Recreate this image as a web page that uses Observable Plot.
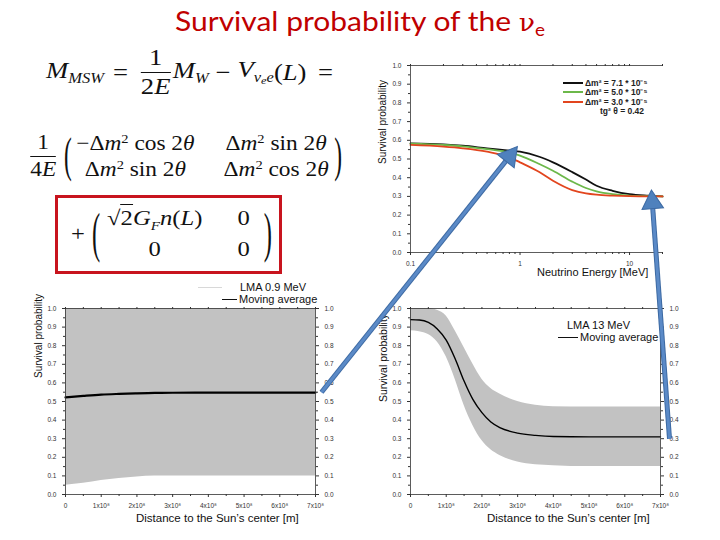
<!DOCTYPE html>
<html><head><meta charset="utf-8">
<script src="https://cdn.jsdelivr.net/npm/d3@7"></script>
<script src="https://cdn.jsdelivr.net/npm/@observablehq/plot@0.6"></script>
<style>
body{margin:0;background:#fff;}
#page{position:relative;width:720px;height:540px;overflow:hidden;background:#fff;font-family:"Liberation Sans",Arial,sans-serif;}
.abs{position:absolute;}
.math{font-family:"Liberation Serif","DejaVu Serif",serif;color:#111;white-space:nowrap;line-height:1;transform-origin:0 50%;}
.math i{font-style:italic;}
.sub{font-size:0.62em;vertical-align:-0.35em;}
.sup{font-size:0.62em;vertical-align:0.55em;}
.frac{display:inline-flex;flex-direction:column;align-items:center;margin:0 2px;vertical-align:middle;}
.frac .bar{height:1.3px;background:#111;align-self:stretch;margin:3px 0 2px 0;}
.paren{display:inline-block;transform:scaleY(2.3);font-weight:300;}
.mat{display:inline-grid;grid-template-columns:auto auto;column-gap:26px;row-gap:4px;vertical-align:middle;text-align:center;}
.lab{font-family:"Liberation Sans",Arial,sans-serif;color:#111;white-space:nowrap;line-height:1;}
.chart{position:absolute;}
</style>
</head><body>
<div id="page">
  <div id="title" class="abs" style="left:175px;top:4px;color:#c00000;font-family:Lato,'Open Sans',sans-serif;font-size:27px;white-space:nowrap;transform-origin:0 0;">Survival probability of the <span style="font-family:'DejaVu Serif',serif;font-size:24px;">ν</span><span style="font-size:17px;vertical-align:-0.3em;">e</span></div>

  <div id="eq1" class="abs math" style="left:46px;top:47px;font-size:23px;display:flex;align-items:center;height:50px;">
    <span><i>M</i><span class="sub"><i>MSW</i></span></span>
    <span style="margin:0 9px 0 8px;">=</span>
    <span class="frac"><span>1</span><span class="bar"></span><span>2<i>E</i></span></span>
    <span><i>M</i><span class="sub"><i>W</i></span></span>
    <span style="margin:0 6px;">−</span>
    <span><i>V</i><span class="sub"><i>ν</i><span style="font-size:0.75em;vertical-align:-0.2em;"><i>e</i></span><i>e</i></span></span>
    <span>(<i>L</i>)</span>
    <span style="margin-left:10px;">=</span>
  </div>

  <div id="eq2" class="abs math" style="left:28px;top:130px;font-size:21px;display:flex;align-items:center;height:52px;">
    <span class="frac"><span>1</span><span class="bar"></span><span>4<i>E</i></span></span>
    <span class="paren" style="margin:0 4px 0 5px;">(</span>
    <span class="mat">
      <span>−Δ<i>m</i><span class="sup">2</span> cos 2<i>θ</i></span><span>Δ<i>m</i><span class="sup">2</span> sin 2<i>θ</i></span>
      <span>Δ<i>m</i><span class="sup">2</span> sin 2<i>θ</i></span><span>Δ<i>m</i><span class="sup">2</span> cos 2<i>θ</i></span>
    </span>
    <span class="paren" style="margin-left:5px;">)</span>
  </div>

  <div class="abs" style="left:55px;top:195px;width:221px;height:73px;border:3px solid #c8141e;"></div>
  <div id="eq3" class="abs math" style="left:71px;top:206px;font-size:21px;display:flex;align-items:center;height:56px;">
    <span>+</span>
    <span class="paren" style="margin:0 6px 0 6px;transform:scaleY(2.6);">(</span>
    <span class="mat" style="column-gap:30px;row-gap:8px;">
      <span>√<span style="border-top:1.3px solid #111;padding-top:1px;">2</span><i>G</i><span class="sub"><i>F</i></span><i>n</i>(<i>L</i>)</span><span>0</span>
      <span>0</span><span>0</span>
    </span>
    <span class="paren" style="margin-left:12px;transform:scaleY(2.6);">)</span>
  </div>

  <div id="c1" class="chart" style="left:370px;top:50px;"></div>
  <div id="c2" class="chart" style="left:20px;top:280px;"></div>
  <div id="c3" class="chart" style="left:370px;top:290px;"></div>

  <!-- axis titles -->
  <div class="abs lab" style="left:383px;top:122px;font-size:10px;transform:translate(-50%,-50%) rotate(-90deg);">Survival probability</div>
  <div class="abs lab" style="left:537px;top:267px;font-size:11px;">Neutrino Energy [MeV]</div>
  <div class="abs lab" style="left:39px;top:336px;font-size:10px;transform:translate(-50%,-50%) rotate(-90deg);">Survival probability</div>
  <div class="abs lab" style="left:136px;top:513px;font-size:11.5px;">Distance to the Sun’s center [m]</div>
  <div class="abs lab" style="left:383px;top:358px;font-size:10.5px;transform:translate(-50%,-50%) rotate(-90deg);">Survival probability</div>
  <div class="abs lab" style="left:487px;top:513px;font-size:11.5px;">Distance to the Sun’s center [m]</div>

  <!-- legends -->
  <div id="leg1" class="abs lab" style="left:563px;top:78px;font-size:8.5px;font-weight:bold;color:#222;"></div>
  <div class="abs" style="left:198px;top:287px;width:24px;height:1px;background:#d8d8d8;"></div>
  <div class="abs lab" style="left:240px;top:282px;font-size:11px;">LMA 0.9 MeV</div>
  <div class="abs" style="left:222px;top:299px;width:15px;height:1.3px;background:#111;"></div>
  <div class="abs lab" style="left:239px;top:294px;font-size:11px;">Moving average</div>
  <div class="abs lab" style="left:567px;top:320px;font-size:11px;">LMA 13 MeV</div>
  <div class="abs" style="left:558px;top:337px;width:20px;height:1.3px;background:#111;"></div>
  <div class="abs lab" style="left:580px;top:332px;font-size:11px;">Moving average</div>

  <div id="arrows" class="chart" style="left:0;top:0;pointer-events:none;"></div>
</div>
<script>
// ---------- data ----------
const energy = [0.1, 0.2, 0.3, 0.5, 0.8, 1, 1.5, 2, 3, 4, 5, 7, 10, 15, 20];
const pDm71 = [0.584, 0.578, 0.571, 0.557, 0.545, 0.539, 0.512, 0.482, 0.430, 0.390, 0.357, 0.330, 0.312, 0.304, 0.300];
const pDm50 = [0.582, 0.575, 0.568, 0.553, 0.535, 0.518, 0.473, 0.437, 0.379, 0.345, 0.327, 0.312, 0.304, 0.301, 0.300];
const pDm30 = [0.575, 0.566, 0.557, 0.539, 0.509, 0.482, 0.430, 0.384, 0.334, 0.316, 0.309, 0.304, 0.301, 0.300, 0.300];
const seriesNames = ["Δm² = 7.1 * 10⁻⁵", "Δm² = 5.0 * 10⁻⁵", "Δm² = 3.0 * 10⁻⁵"];
const seriesColors = ["#111111", "#6cb84a", "#e2451e"];
const mixingLabel = "tg² θ = 0.42";

const distLow = [0, 0.5e8, 1e8, 1.5e8, 2e8, 2.5e8, 3e8, 4e8, 5e8, 6e8, 7e8];
const lowAvg = [0.522, 0.530, 0.537, 0.541, 0.544, 0.546, 0.547, 0.548, 0.548, 0.548, 0.548];
const lowBandLo = [0.050, 0.060, 0.075, 0.086, 0.094, 0.099, 0.100, 0.100, 0.100, 0.100, 0.100];
const lowBandHi = [1.0, 1.0, 1.0, 1.0, 1.0, 1.0, 1.0, 1.0, 1.0, 1.0, 1.0];

const distHigh = [0, 0.25e8, 0.5e8, 0.75e8, 1e8, 1.25e8, 1.5e8, 1.75e8, 2e8, 2.25e8, 2.5e8, 3e8, 3.5e8, 4e8, 5e8, 6e8, 7e8];
const highAvg = [0.940, 0.938, 0.925, 0.890, 0.830, 0.730, 0.610, 0.510, 0.440, 0.390, 0.360, 0.330, 0.318, 0.312, 0.310, 0.310, 0.310];
const highBandHi = [1.0, 1.0, 1.0, 0.99, 0.96, 0.88, 0.79, 0.70, 0.62, 0.57, 0.54, 0.50, 0.48, 0.472, 0.470, 0.470, 0.470];
const highBandLo = [0.880, 0.875, 0.860, 0.820, 0.740, 0.620, 0.480, 0.370, 0.290, 0.240, 0.210, 0.175, 0.160, 0.155, 0.150, 0.150, 0.150];

const probTicks = [0, 0.1, 0.2, 0.3, 0.4, 0.5, 0.6, 0.7, 0.8, 0.9, 1.0];
const probMinor = [0.05, 0.15, 0.25, 0.35, 0.45, 0.55, 0.65, 0.75, 0.85, 0.95];
const energyTicks = [0.1, 1, 10];
const energyMinor = [0.2, 0.3, 0.4, 0.5, 0.6, 0.7, 0.8, 0.9, 2, 3, 4, 5, 6, 7, 8, 9, 20];
const distTicks = [0, 1e8, 2e8, 3e8, 4e8, 5e8, 6e8, 7e8];
const distMinor = [0.5e8, 1.5e8, 2.5e8, 3.5e8, 4.5e8, 5.5e8, 6.5e8];

// arrows: from [chart, x, y, pixel nudge] to [chart, x, y, pixel nudge] in data units
const arrowFrom = [["c2", 7e8, 0.55, 6], ["c3", 7e8, 0.30, 9]];
const arrowTo = [["c1", 0.87, 0.54, 0], ["c1", 16, 0.30, 0]];

// ---------- build ----------
const fmtDist = d => d === 0 ? "0" : `${d / 1e8}x10⁸`;
const axisStyle = {fontFamily: "Liberation Sans, Arial, sans-serif", fontSize: "6.5px", color: "#333", background: "transparent", overflow: "visible"};

const energyRows = [];
[pDm71, pDm50, pDm30].forEach((arr, s) => arr.forEach((p, i) => energyRows.push({E: energy[i], p, s: seriesNames[s]})));

const c1 = Plot.plot({
  width: 310, height: 230, marginLeft: 40, marginRight: 18, marginTop: 15, marginBottom: 28,
  x: {type: "log", domain: [0.1, 20]},
  y: {domain: [0, 1]},
  color: {domain: seriesNames, range: seriesColors},
  style: axisStyle,
  marks: [
    Plot.line(energyRows, {x: "E", y: "p", z: "s", stroke: "s", strokeWidth: 1.8, curve: "monotone-x"}),
    Plot.ruleY([0, 1], {stroke: "#333", strokeWidth: 0.8}),
    Plot.ruleX([0.1], {stroke: "#333", strokeWidth: 0.8}),
    Plot.axisX({ticks: energyTicks, tickFormat: d => String(d), tickSize: 3, label: null}),
    Plot.axisX({ticks: energyMinor, tickFormat: () => "", tickSize: 2, label: null}),
    Plot.axisX({anchor: "top", ticks: energyTicks.concat(energyMinor), tickFormat: () => "", tickSize: 2, label: null}),
    Plot.axisY({ticks: probTicks, tickFormat: ".1f", tickSize: 3, label: null}),
    Plot.axisY({ticks: probMinor, tickFormat: () => "", tickSize: 2, label: null})
  ]
});
document.getElementById("c1").append(c1);

function distChart(dist, avg, lo, hi, opts) {
  const band = dist.map((d, i) => ({d, lo: lo[i], hi: hi[i]}));
  const line = dist.map((d, i) => ({d, p: avg[i]}));
  const {lw, ...dims} = opts;
  return Plot.plot({
    ...dims,
    x: {domain: [0, 7e8]},
    y: {domain: [0, 1]},
    style: axisStyle,
    marks: [
      Plot.areaY(band, {x: "d", y1: "lo", y2: "hi", fill: "#c2c2c2", curve: "monotone-x"}),
      Plot.line(line, {x: "d", y: "p", stroke: "#000", strokeWidth: lw, curve: "monotone-x"}),
      Plot.frame({stroke: "#333", strokeWidth: 0.8}),
      Plot.axisX({ticks: distTicks, tickFormat: fmtDist, tickSize: 3, label: null}),
      Plot.axisX({ticks: distMinor, tickFormat: () => "", tickSize: 2, label: null}),
      Plot.axisX({anchor: "top", ticks: distTicks.concat(distMinor), tickFormat: () => "", tickSize: 2, label: null}),
      Plot.axisY({ticks: probTicks, tickFormat: ".1f", tickSize: 3, label: null}),
      Plot.axisY({ticks: probMinor, tickFormat: () => "", tickSize: 2, label: null}),
      Plot.axisY({anchor: "right", ticks: probTicks, tickFormat: ".1f", tickSize: 3, label: null}),
      Plot.axisY({anchor: "right", ticks: probMinor, tickFormat: () => "", tickSize: 2, label: null})
    ]
  });
}
const c2 = distChart(distLow, lowAvg, lowBandLo, lowBandHi, {width: 340, height: 250, marginLeft: 45, marginRight: 45, marginTop: 28, marginBottom: 36, lw: 2.2});
document.getElementById("c2").append(c2);
const c3 = distChart(distHigh, highAvg, highBandLo, highBandHi, {width: 330, height: 245, marginLeft: 40, marginRight: 40, marginTop: 18, marginBottom: 41, lw: 1.4});
document.getElementById("c3").append(c3);

// legend for energy chart
const leg = document.getElementById("leg1");
seriesNames.forEach((n, i) => {
  const row = document.createElement("div");
  row.style.cssText = "display:flex;align-items:center;height:9.5px;";
  row.innerHTML = `<span style="display:inline-block;width:20px;height:2px;background:${seriesColors[i]};margin-right:2px;"></span><span>${n}</span>`;
  leg.append(row);
});
const mrow = document.createElement("div");
mrow.style.cssText = "height:9.5px;padding-left:37px;display:flex;align-items:center;";
mrow.textContent = mixingLabel;
leg.append(mrow);

// arrows overlay, endpoints from chart scales
const charts = {c1, c2, c3};
const offs = {c1: [370, 50], c2: [20, 280], c3: [370, 290]};
const toPx = ([c, x, y, dx]) => [offs[c][0] + charts[c].scale("x").apply(x) + dx, offs[c][1] + charts[c].scale("y").apply(y)];
const headLen = 11;
const arrowRows = arrowFrom.map((f, i) => {
  const [x1, y1] = toPx(f), [x2, y2] = toPx(arrowTo[i]);
  const L = Math.hypot(x2 - x1, y2 - y1), ux = (x2 - x1) / L, uy = (y2 - y1) / L;
  return {
    x1, y1, x2, y2,
    sx: x2 - ux * headLen, sy: y2 - uy * headLen,          // end of shaft
    hx: x2 - ux * headLen * 0.55, hy: y2 - uy * headLen * 0.55, // centroid of head
    rot: Math.atan2(ux, -uy) * 180 / Math.PI
  };
});
const ov = Plot.plot({
  width: 720, height: 540, margin: 0,
  x: {type: "identity", axis: null}, y: {type: "identity", axis: null},
  style: {background: "transparent"},
  marks: [
    Plot.link(arrowRows, {x1: "x1", y1: "y1", x2: "sx", y2: "sy", stroke: "#3d6aa3", strokeWidth: 5}),
    Plot.link(arrowRows, {x1: "x1", y1: "y1", x2: "sx", y2: "sy", stroke: "#5b8ac7", strokeWidth: 3}),
    Plot.dot(arrowRows, {x: "hx", y: "hy", symbol: "triangle", r: 8, rotate: "rot", fill: "#4f81bd", stroke: "#3d6aa3", strokeWidth: 1})
  ]
});
document.getElementById("arrows").append(ov);

// fit title and equations horizontally to the reference spans
function fitW(id, target, origin) {
  const el = document.getElementById(id);
  const w = el.getBoundingClientRect().width;
  el.style.transformOrigin = origin;
  el.style.transform = `scaleX(${target / w})`;
}
fitW("title", 370, "0 0");
fitW("eq1", 287, "0 50%");
fitW("eq2", 314, "0 50%");
fitW("eq3", 201, "0 50%");
</script>
</body></html>
